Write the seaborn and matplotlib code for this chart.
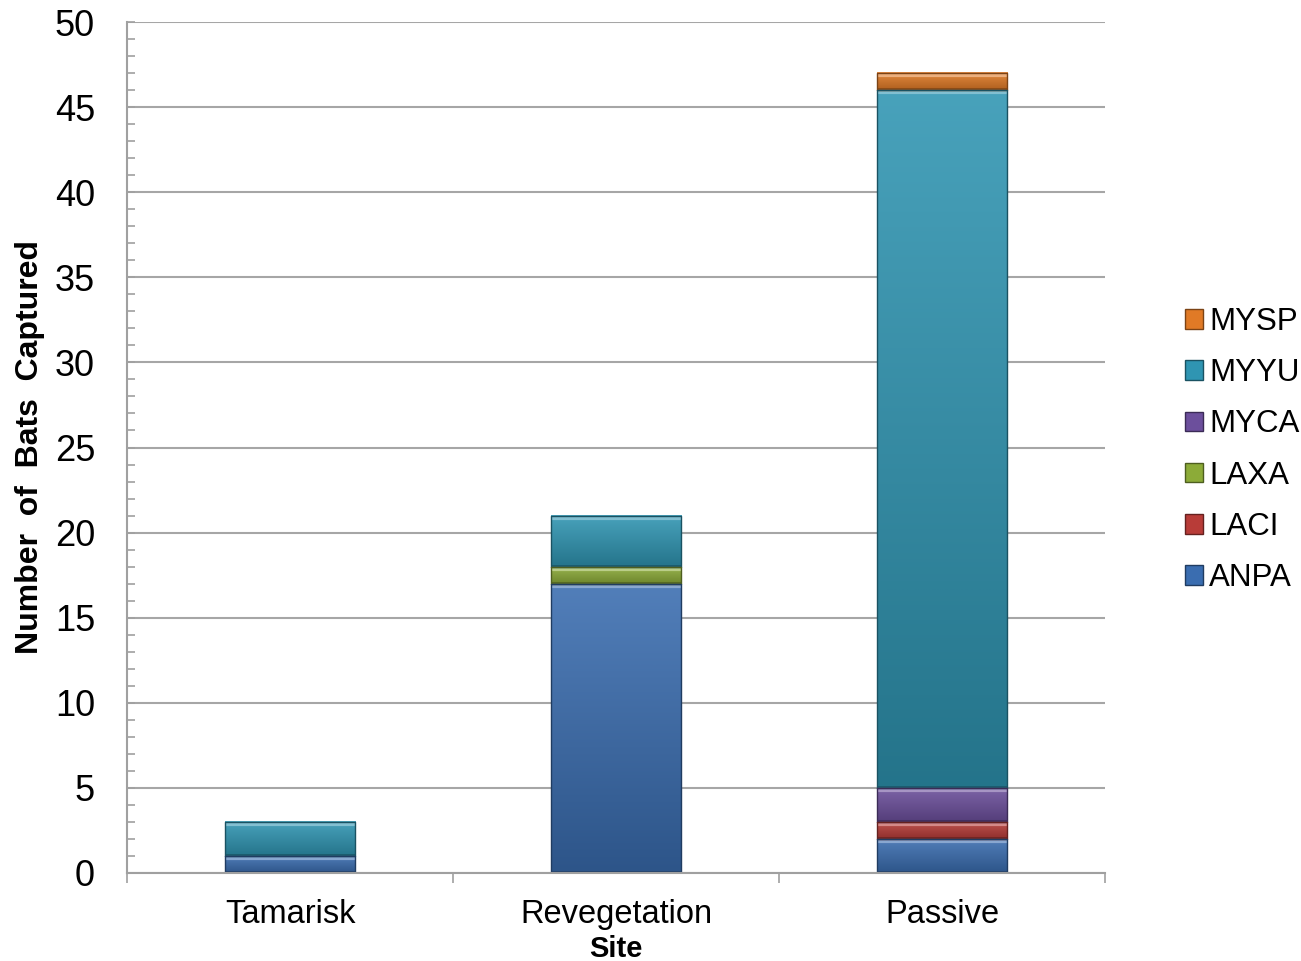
import numpy as np
import pandas as pd
import matplotlib
matplotlib.use("Agg")
import matplotlib.pyplot as plt
import matplotlib.colors as mcolors
from matplotlib.patches import Patch
import seaborn as sns

# ---------------- data ----------------
sites = ["Tamarisk", "Revegetation", "Passive"]
species = ["ANPA", "LACI", "LAXA", "MYCA", "MYYU", "MYSP"]
ANPA = [1, 17, 2]
LACI = [0, 0, 1]
LAXA = [0, 1, 0]
MYCA = [0, 0, 2]
MYYU = [2, 3, 41]
MYSP = [0, 0, 1]
yticks = [0, 5, 10, 15, 20, 25, 30, 35, 40, 45, 50]

values = {"ANPA": ANPA, "LACI": LACI, "LAXA": LAXA,
          "MYCA": MYCA, "MYYU": MYYU, "MYSP": MYSP}
colors = {"ANPA": "#3A6DB0", "LACI": "#B83C38", "LAXA": "#8CAB38",
          "MYCA": "#6C4F9C", "MYYU": "#2F95B2", "MYSP": "#E07A26"}

sns.set_theme(style="white")
plt.rcParams["font.family"] = ["Liberation Sans", "DejaVu Sans"]
plt.rcParams["text.color"] = "black"
plt.rcParams["axes.labelcolor"] = "black"
plt.rcParams["xtick.color"] = "black"
plt.rcParams["ytick.color"] = "black"

fig = plt.figure(figsize=(13.01, 9.61), dpi=100)
ax = fig.add_axes([127 / 1301, 1 - 873 / 961, (1105 - 127) / 1301, (873 - 22) / 961])

df = pd.DataFrame(values, index=sites)
cum = df.cumsum(axis=1)

# draw stacked segments: tallest cumulative first
segments = []  # (patch, bottom, height, species)
for sp in reversed(species):
    n_before = len(ax.patches)
    sns.barplot(x=sites, y=cum[sp].values, color=colors[sp], width=0.4,
                saturation=1, ax=ax, zorder=2, linewidth=0)
    new = ax.patches[n_before:]
    idx = species.index(sp)
    bottoms = cum[species[idx - 1]].values if idx > 0 else np.zeros(len(sites))
    for p, b, v in zip(new, bottoms, df[sp].values):
        p.set_y(b)
        p.set_height(v)
        segments.append((p, b, v, sp))

ax.set_xlim(-0.5, 2.5)
ax.set_ylim(0, 50)

# bevel / gradient look
def shade(c, f):
    r, g, b = mcolors.to_rgb(c)
    if f >= 0:
        return (r + (1 - r) * f, g + (1 - g) * f, b + (1 - b) * f)
    return (r * (1 + f), g * (1 + f), b * (1 + f))

for p, b, v, sp in segments:
    if v <= 0:
        p.set_visible(False)
        continue
    x0 = p.get_x()
    w = p.get_width()
    c = colors[sp]
    top = np.array(shade(c, 0.12))
    bot = np.array(shade(c, -0.22))
    t = np.linspace(0, 1, 64)[:, None]
    grad = (top[None, :] * (1 - t) + bot[None, :] * t)[:, None, :]
    ax.imshow(grad, extent=[x0, x0 + w, b, b + v], aspect="auto",
              origin="upper", zorder=2.1, interpolation="bicubic")
    # highlight at top and shadow at bottom of the segment
    ax.plot([x0, x0 + w], [b + v - 0.12, b + v - 0.12], color=shade(c, 0.4),
            lw=3, solid_capstyle="butt", zorder=2.2)
    ax.plot([x0, x0 + w], [b + 0.06, b + 0.06], color=shade(c, -0.4),
            lw=2, solid_capstyle="butt", zorder=2.2)
    ax.plot([x0, x0 + w, x0 + w, x0, x0], [b, b, b + v, b + v, b],
            color=shade(c, -0.45), lw=1, zorder=2.3)

ax.set_xlim(-0.5, 2.5)
ax.set_ylim(0, 50)

# grid and spines
ax.set_yticks(yticks)
ax.set_yticks(np.arange(0, 51, 1), minor=True)
ax.yaxis.grid(True, which="major", color="#A6A6A6", linewidth=1.5, zorder=0)
ax.set_axisbelow(True)
for s in ["top", "right"]:
    ax.spines[s].set_visible(False)
for s in ["left", "bottom"]:
    ax.spines[s].set_visible(True)
    ax.spines[s].set_color("#A0A0A0")
    ax.spines[s].set_linewidth(1.5)

ax.tick_params(axis="y", which="both", direction="in", left=True,
               color="#A0A0A0", width=1.2, length=6)
ax.tick_params(axis="y", which="major", labelsize=26, pad=23, labelcolor="black")

ax.set_xticks(range(len(sites)))
ax.set_xticklabels(sites)
ax.set_xticks([-0.5, 0.5, 1.5, 2.5], minor=True)
ax.tick_params(axis="x", which="major", length=0, labelsize=23.5, pad=19,
               labelcolor="black")
ax.tick_params(axis="x", which="minor", direction="out", bottom=True,
               length=7, width=1.2, color="#A0A0A0")

ax.set_xlabel("Site", fontsize=21, fontweight="bold", labelpad=3, color="black")
ax.set_ylabel("Number  of  Bats  Captured", fontsize=23, fontweight="bold",
              labelpad=0, color="black")
ax.yaxis.set_label_coords(-(127 - 45) / (1105 - 127), 0.5)

handles = [Patch(facecolor=colors[sp], edgecolor=shade(colors[sp], -0.45),
                 label=sp) for sp in reversed(species)]
fig.legend(handles=handles, loc="center left",
           bbox_to_anchor=(1169 / 1301, 1 - 450 / 961), frameon=False,
           fontsize=22.5, handlelength=0.58, handleheight=0.58,
           handletextpad=0.2, labelspacing=0.68, borderpad=0,
           labelcolor="black")

fig.savefig("out.png", dpi=100)
